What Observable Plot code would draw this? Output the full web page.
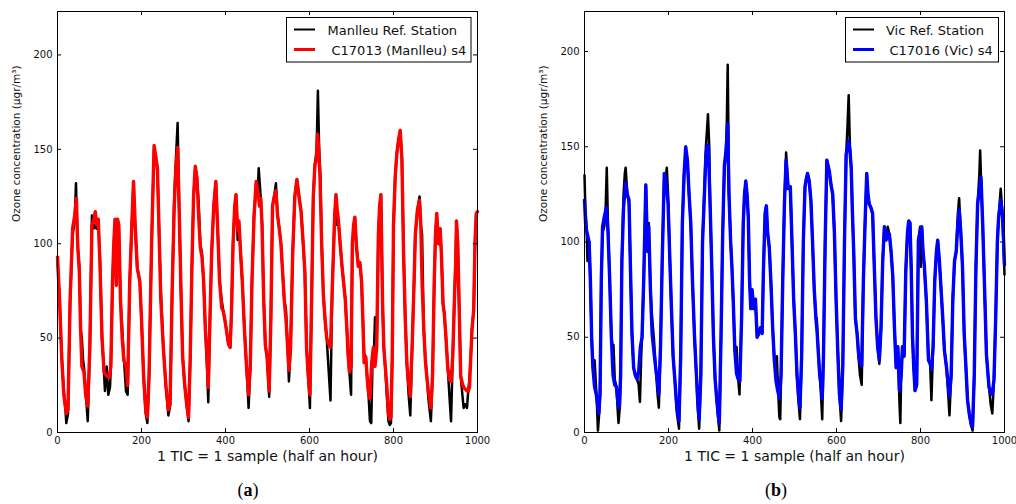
<!DOCTYPE html>
<html><head><meta charset="utf-8">
<script src="https://cdn.jsdelivr.net/npm/d3@7"></script>
<script src="https://cdn.jsdelivr.net/npm/@observablehq/plot@0.6"></script>
<style>
body{margin:0;background:#fff;}
#wrap{position:relative;width:1016px;height:504px;overflow:hidden;background:#fff;}
.panel{position:absolute;top:0;}
#over{position:absolute;left:0;top:0;pointer-events:none;}
.cap{position:absolute;top:480px;font:18px "Liberation Serif","DejaVu Serif",serif;transform:translateX(-50%);}
</style></head>
<body><div id="wrap"></div>
<script>
const xTicks=[0,200,400,600,800,1000];
const yTicks=[0,50,100,150,200];
const xLabel="1 TIC = 1 sample (half an hour)";
const yLabel="Ozone concentration (μgr/m³)";
const seriesNames={a:["Manlleu Ref. Station","C17013 (Manlleu) s4"],b:["Vic Ref. Station","C17016 (Vic) s4"]};

// Panel (a): Manlleu reference station (black)
const manlleuRef=[[0,92],[5,70],[10,40],[15,22],[19,12],[21,5],[25,10],[30,70],[36,105],[41,112],[44,132],[48,98],[52,88],[55,55],[58,50],[61,38],[63,35],[67,22],[72,6],[77,45],[82,115],[86,108],[90,110],[93,108],[97,112],[101,92],[106,50],[110,35],[113,22],[117,35],[121,20],[125,24],[127,35],[131,80],[134,98],[137,113],[140,78],[143,112],[146,108],[150,70],[154,55],[158,40],[163,22],[167,20],[172,80],[177,110],[181,133],[185,108],[190,87],[196,80],[200,60],[205,30],[210,10],[214,5],[218,30],[224,100],[230,150],[234,146],[238,138],[242,105],[246,75],[252,45],[258,25],[264,9],[268,14],[273,75],[278,125],[282,145],[286,164],[290,115],[294,75],[298,40],[303,25],[308,14],[312,6],[316,38],[320,88],[324,125],[328,140],[332,135],[336,122],[340,100],[344,95],[348,80],[352,55],[356,35],[359,16],[363,60],[367,95],[372,120],[377,133],[381,110],[386,80],[391,70],[395,64],[399,59],[403,53],[407,47],[411,45],[414,62],[418,100],[422,120],[425,126],[429,102],[432,110],[436,95],[440,80],[445,55],[450,35],[455,13],[459,35],[463,80],[468,115],[473,130],[477,128],[479,140],[484,124],[487,110],[491,70],[495,46],[499,40],[504,19],[508,60],[512,120],[516,125],[520,132],[524,115],[528,108],[532,100],[536,85],[540,70],[544,65],[548,45],[551,27],[555,45],[560,95],[565,125],[570,134],[575,125],[580,117],[585,100],[589,85],[593,45],[597,30],[601,13],[605,70],[609,125],[613,142],[617,150],[620,181],[623,150],[626,135],[629,100],[633,73],[637,60],[641,50],[645,35],[650,17],[654,75],[657,95],[660,115],[663,126],[666,110],[669,112],[673,100],[677,89],[681,80],[685,71],[689,55],[692,41],[695,32],[699,20],[702,100],[705,105],[708,114],[712,98],[716,90],[720,90],[724,80],[727,60],[730,42],[734,40],[737,30],[740,22],[744,6],[747,5],[750,37],[753,40],[756,61],[760,45],[764,105],[767,120],[770,126],[774,68],[777,45],[780,36],[784,20],[788,6],[791,4],[794,5],[797,40],[800,110],[804,135],[808,148],[812,155],[816,160],[820,145],[824,95],[828,60],[832,36],[836,20],[840,9],[845,50],[849,80],[852,105],[857,118],[862,125],[865,110],[868,105],[872,55],[876,38],[880,28],[883,18],[889,6],[893,30],[897,80],[900,105],[903,116],[907,100],[911,108],[914,95],[918,68],[921,63],[925,50],[929,35],[933,20],[937,6],[941,40],[945,70],[948,90],[950,112],[953,100],[956,70],[960,30],[964,20],[967,13],[971,15],[975,13],[978,22],[981,29],[984,40],[987,55],[991,65],[994,100],[997,116],[1000,117]];

// Panel (a): C17013 sensor (red)
const manlleuSensor=[[0,93],[5,70],[10,40],[15,20],[21,10],[25,12],[30,70],[36,108],[41,115],[45,124],[48,100],[52,85],[55,55],[58,35],[63,32],[67,20],[72,14],[77,45],[82,110],[86,112],[90,117],[93,110],[97,113],[101,90],[106,50],[111,32],[117,30],[123,29],[127,35],[131,80],[134,100],[137,113],[140,78],[143,113],[146,110],[150,70],[154,50],[158,38],[163,35],[167,25],[172,80],[177,110],[181,133],[185,110],[190,87],[196,80],[200,60],[205,30],[210,12],[214,8],[218,30],[224,100],[230,152],[234,146],[238,140],[242,105],[246,70],[252,45],[258,25],[264,12],[268,15],[273,75],[278,120],[282,140],[286,151],[290,115],[294,75],[298,40],[303,25],[308,14],[312,8],[316,40],[320,88],[324,125],[328,141],[332,135],[336,115],[340,98],[344,93],[348,80],[352,55],[356,40],[359,24],[363,60],[367,95],[372,120],[377,133],[381,110],[386,80],[391,66],[395,64],[399,59],[403,53],[407,47],[411,45],[414,62],[418,100],[422,120],[425,126],[429,107],[432,112],[436,95],[440,80],[445,55],[450,35],[455,20],[459,35],[463,80],[468,115],[473,133],[477,128],[481,120],[484,124],[487,110],[491,70],[495,46],[499,40],[504,22],[508,60],[512,120],[516,125],[520,128],[524,115],[528,108],[532,100],[536,85],[540,70],[544,60],[548,45],[551,33],[555,45],[560,95],[565,125],[570,134],[575,125],[580,117],[585,100],[589,85],[593,45],[597,30],[601,20],[605,70],[609,125],[613,142],[617,145],[619,158],[622,150],[625,135],[629,100],[633,73],[637,60],[641,50],[645,47],[650,45],[654,75],[657,95],[660,115],[663,126],[666,118],[669,112],[673,100],[677,89],[681,80],[685,71],[689,55],[692,41],[695,32],[699,35],[702,100],[705,110],[708,114],[712,98],[716,88],[720,90],[724,80],[727,60],[730,37],[734,40],[737,30],[740,22],[744,18],[748,37],[752,45],[756,35],[760,45],[764,105],[767,120],[770,126],[774,68],[777,45],[780,36],[784,25],[788,10],[791,7],[794,8],[797,40],[800,110],[804,135],[808,148],[812,155],[816,160],[820,145],[824,95],[828,60],[832,36],[836,26],[840,19],[845,50],[849,80],[852,105],[857,118],[862,123],[865,110],[868,80],[872,55],[876,38],[880,28],[883,22],[889,13],[893,30],[897,80],[900,105],[903,116],[907,100],[911,108],[914,95],[918,68],[921,63],[925,50],[929,35],[933,28],[937,27],[941,40],[945,70],[948,90],[950,112],[953,100],[956,70],[960,30],[964,26],[967,24],[971,23],[975,22],[978,22],[981,24],[984,40],[987,55],[991,65],[994,100],[997,116],[1000,117]];

// Panel (b): Vic reference station (black)
const vicRef=[[0,135],[2,118],[5,108],[7,90],[11,100],[14,80],[17,50],[20,34],[24,38],[26,30],[29,18],[32,1],[35,10],[37,20],[40,80],[43,105],[47,108],[50,115],[53,139],[56,108],[60,80],[64,50],[67,45],[69,46],[72,28],[76,24],[79,12],[81,5],[84,13],[86,30],[89,90],[93,125],[96,136],[98,139],[102,125],[106,120],[109,90],[113,52],[117,34],[121,30],[125,28],[129,25],[132,16],[135,40],[137,50],[141,80],[146,130],[150,95],[153,110],[157,75],[161,60],[165,50],[170,33],[174,20],[177,13],[181,45],[185,90],[190,135],[193,133],[196,139],[199,125],[203,92],[207,65],[211,40],[215,28],[220,10],[225,2],[229,40],[233,110],[237,135],[241,148],[245,143],[249,125],[253,110],[257,80],[262,50],[266,32],[270,12],[273,2],[277,30],[281,100],[285,125],[289,150],[292,160],[294,167],[297,150],[299,120],[303,87],[307,50],[311,28],[315,17],[318,8],[321,1],[325,50],[329,104],[333,138],[337,148],[339,165],[341,193],[343,150],[344,125],[348,100],[351,87],[354,70],[358,43],[362,45],[366,28],[369,20],[374,60],[378,110],[381,125],[384,132],[387,125],[390,113],[393,80],[396,65],[399,75],[403,65],[407,70],[411,50],[415,52],[419,55],[423,52],[426,85],[430,115],[433,119],[436,105],[440,97],[444,78],[448,55],[452,38],[456,30],[458,40],[461,22],[464,8],[466,7],[468,30],[472,80],[476,120],[480,147],[485,128],[490,129],[494,100],[498,70],[502,52],[506,30],[510,15],[513,7],[517,40],[521,100],[525,129],[528,133],[531,136],[535,132],[539,122],[543,100],[547,75],[551,60],[553,60],[557,41],[560,30],[563,20],[566,7],[569,40],[573,100],[577,143],[580,140],[583,137],[587,130],[591,125],[595,105],[599,70],[603,43],[607,20],[611,6],[615,35],[619,100],[623,146],[626,160],[629,177],[632,150],[635,139],[638,115],[641,95],[645,60],[649,52],[653,38],[656,30],[660,25],[664,80],[668,110],[672,136],[675,125],[678,120],[682,118],[686,115],[690,87],[694,60],[698,45],[702,36],[706,55],[710,90],[714,108],[718,101],[722,108],[726,104],[730,95],[734,82],[738,55],[742,34],[746,45],[750,15],[752,5],[754,30],[757,45],[761,40],[765,85],[769,105],[772,111],[775,110],[778,85],[781,50],[784,34],[787,22],[791,25],[795,101],[799,108],[801,87],[803,108],[806,95],[809,88],[814,69],[819,38],[823,36],[826,17],[830,45],[834,80],[838,95],[841,101],[845,90],[849,75],[853,60],[857,43],[862,34],[866,20],[869,9],[873,30],[877,70],[881,90],[885,95],[889,115],[892,123],[896,105],[900,87],[904,52],[908,35],[912,17],[916,10],[920,4],[924,1],[928,30],[932,87],[936,120],[940,135],[942,148],[944,134],[948,110],[952,80],[957,41],[963,24],[967,15],[971,10],[975,28],[979,60],[983,100],[986,113],[991,128],[995,115],[998,95],[1000,83]];

// Panel (b): C17016 sensor (blue)
const vicSensor=[[0,122],[3,108],[7,104],[11,100],[14,80],[17,50],[20,34],[24,24],[28,20],[31,15],[34,10],[37,20],[40,80],[43,108],[47,113],[52,118],[56,105],[60,80],[64,50],[68,30],[72,25],[76,24],[80,15],[83,13],[86,30],[89,90],[93,118],[98,131],[102,125],[106,122],[109,90],[113,52],[117,34],[121,30],[125,28],[129,32],[133,45],[137,50],[141,80],[146,130],[150,95],[153,108],[157,75],[161,52],[165,43],[170,33],[174,26],[177,20],[181,45],[185,90],[190,136],[195,130],[199,120],[203,92],[207,65],[211,40],[215,28],[220,13],[225,6],[229,40],[233,110],[237,135],[241,150],[245,143],[249,125],[253,110],[257,80],[262,50],[266,32],[270,15],[273,7],[277,30],[281,100],[285,122],[289,145],[292,151],[295,150],[299,120],[303,87],[307,50],[311,28],[315,17],[318,10],[321,5],[325,50],[329,104],[333,140],[337,148],[341,162],[344,125],[348,100],[351,87],[354,70],[358,43],[362,31],[366,28],[370,27],[374,60],[378,110],[381,125],[384,132],[387,125],[390,113],[393,80],[396,65],[399,75],[403,65],[407,70],[411,50],[415,52],[419,55],[423,52],[426,85],[430,115],[433,119],[436,105],[440,97],[444,78],[448,55],[452,38],[456,27],[460,22],[464,18],[468,30],[472,80],[476,120],[480,143],[485,128],[490,129],[494,100],[498,70],[502,52],[506,30],[510,18],[513,13],[517,40],[521,100],[525,129],[528,133],[531,136],[535,132],[539,122],[543,100],[547,75],[551,60],[554,52],[557,41],[560,30],[563,26],[566,18],[569,40],[573,100],[577,143],[580,140],[583,137],[587,130],[591,125],[595,105],[599,70],[603,43],[607,20],[611,12],[615,35],[619,100],[623,146],[626,150],[629,153],[632,148],[635,139],[638,115],[641,95],[645,60],[649,52],[653,40],[656,37],[660,35],[664,80],[668,110],[672,136],[675,125],[678,120],[682,118],[686,115],[690,87],[694,60],[698,45],[702,38],[706,55],[710,90],[714,108],[718,101],[722,105],[726,104],[730,95],[734,82],[738,55],[742,34],[746,45],[750,22],[754,30],[757,45],[761,40],[765,85],[769,105],[772,111],[775,110],[778,85],[781,50],[784,34],[787,22],[791,25],[795,101],[799,105],[803,108],[806,95],[809,88],[814,69],[819,38],[823,36],[826,33],[830,45],[834,80],[838,95],[841,101],[845,90],[849,75],[853,60],[857,43],[862,34],[866,25],[869,19],[873,30],[877,70],[881,90],[885,95],[889,110],[892,117],[896,105],[900,87],[904,52],[908,35],[912,17],[916,10],[920,5],[924,3],[928,30],[932,87],[936,120],[940,127],[944,134],[948,110],[952,80],[957,41],[963,24],[967,21],[971,20],[975,28],[979,60],[983,100],[986,113],[991,122],[995,115],[998,100],[1000,88]];

const toRows=a=>a.map(([s,v])=>({s,v}));

function panel(o){
  const W=508,H=470,mt=11,mb=38,ph=H-mt-mb,pw=W-o.ml-o.mr;
  return Plot.plot({
    width:W,height:H,marginLeft:o.ml,marginRight:o.mr,marginTop:mt,marginBottom:mb,
    x:{domain:[0,1000]},y:{domain:[0,o.yMax]},
    style:{fontFamily:'"DejaVu Sans", sans-serif',fontSize:"10px",color:"#111",background:"white",overflow:"visible"},
    marks:[
      Plot.line(toRows(o.ref),{x:"s",y:"v",stroke:"#000",strokeWidth:2.5}),
      Plot.line(toRows(o.sen),{x:"s",y:"v",stroke:o.color,strokeWidth:3.4}),
      Plot.frame({stroke:"#000"}),
      Plot.tickX(xTicks,{x:d=>d,insetTop:ph-4,stroke:"#000"}),
      Plot.tickX(xTicks,{x:d=>d,insetBottom:ph-4,stroke:"#000"}),
      Plot.tickY(yTicks,{y:d=>d,insetRight:pw-4,stroke:"#000"}),
      Plot.tickY(yTicks,{y:d=>d,insetLeft:pw-4,stroke:"#000"}),
      Plot.axisX(xTicks,{tickSize:0,tickPadding:4,label:null,tickFormat:d=>String(d)}),
      Plot.axisY(yTicks,{tickSize:0,tickPadding:5,label:null,tickFormat:d=>String(d)}),
      Plot.text([xLabel],{text:d=>d,frameAnchor:"bottom",dy:28,fontSize:14,fill:"#111"}),
      Plot.text([yLabel],{text:d=>d,frameAnchor:"left",dx:-41,rotate:-90,fontSize:10.5,fill:"#111"})
    ]
  });
}

const wrap=document.getElementById("wrap");
const pa=panel({ref:manlleuRef,sen:manlleuSensor,color:"#ff0000",yMax:223,ml:57,mr:31});
pa.classList.add("panel"); pa.style.left="0px"; wrap.appendChild(pa);
const pb=panel({ref:vicRef,sen:vicSensor,color:"#0000ff",yMax:221,ml:76,mr:12});
pb.classList.add("panel"); pb.style.left="508px"; wrap.appendChild(pb);

// legends
const legends=[
  {x:286.5,w:184.5,lx:294,tx1:327.5,tx2:331.5,color:"#ff0000",names:seriesNames.a},
  {x:845.5,w:153,lx:853,tx1:886,tx2:889.5,color:"#0000ff",names:seriesNames.b}
];
const ns="http://www.w3.org/2000/svg";
const over=document.createElementNS(ns,"svg");
over.setAttribute("id","over");over.setAttribute("width",1016);over.setAttribute("height",504);
const sel=d3.select(over);
legends.forEach(L=>{
  sel.append("rect").attr("x",L.x).attr("y",17.5).attr("width",L.w).attr("height",44.5)
    .attr("fill","#fff").attr("stroke","#000").attr("stroke-width",1);
  sel.append("line").attr("x1",L.lx).attr("x2",L.lx+21).attr("y1",29.5).attr("y2",29.5).attr("stroke","#000").attr("stroke-width",2);
  sel.append("line").attr("x1",L.lx).attr("x2",L.lx+21).attr("y1",49.5).attr("y2",49.5).attr("stroke",L.color).attr("stroke-width",3);
  sel.append("text").attr("x",L.tx1).attr("y",30).attr("dominant-baseline","central")
    .attr("font-family",'"DejaVu Sans", sans-serif').attr("font-size",13).attr("fill","#111").text(L.names[0]);
  sel.append("text").attr("x",L.tx2).attr("y",50).attr("dominant-baseline","central")
    .attr("font-family",'"DejaVu Sans", sans-serif').attr("font-size",13).attr("fill","#111").text(L.names[1]);
});
wrap.appendChild(over);

// captions
[["a",248],["b",776]].forEach(([t,x])=>{
  const d=document.createElement("div");d.className="cap";d.style.left=x+"px";
  d.innerHTML="(<b>"+t+"</b>)";wrap.appendChild(d);
});
</script>
</body></html>
